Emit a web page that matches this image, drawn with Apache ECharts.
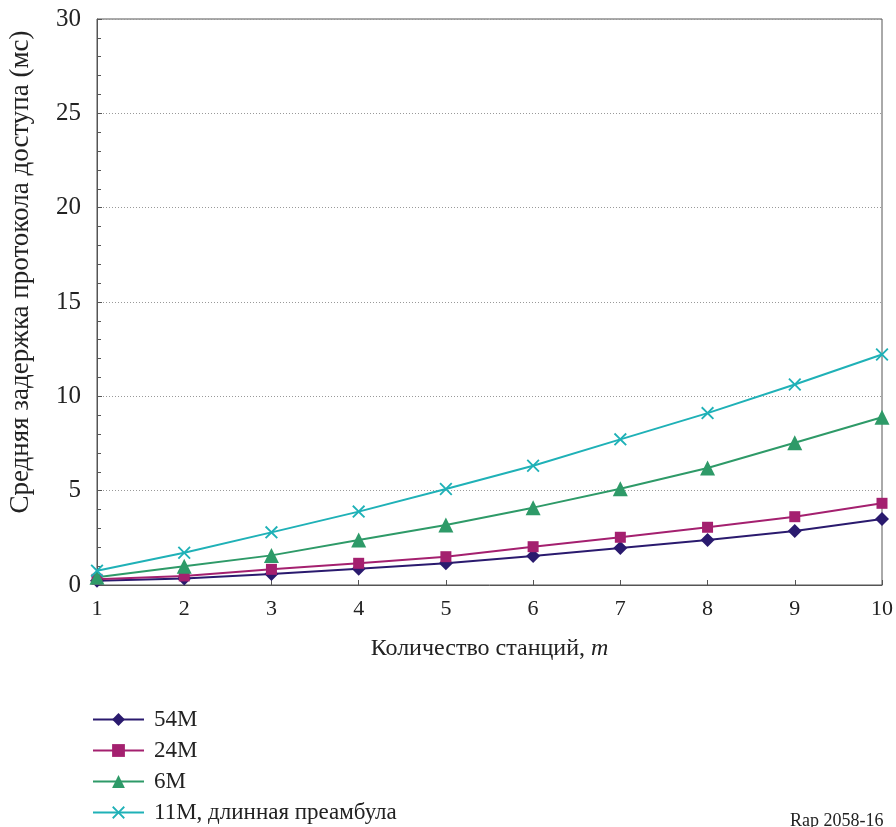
<!DOCTYPE html>
<html><head><meta charset="utf-8">
<script src="https://cdn.jsdelivr.net/npm/echarts@6/dist/echarts.min.js"></script>
<style>html,body{margin:0;padding:0;background:#fff}#c{width:896px;height:827px}</style>
</head><body><div id="c"></div>
<script>
var stations = [1,2,3,4,5,6,7,8,9,10];
var s54M = [0.23,0.34,0.58,0.86,1.15,1.54,1.96,2.38,2.86,3.5];
var s24M = [0.3,0.48,0.83,1.15,1.5,2.03,2.53,3.06,3.62,4.33];
var s6M  = [0.41,1.0,1.57,2.38,3.18,4.1,5.1,6.2,7.54,8.89];
var s11M = [0.76,1.71,2.79,3.89,5.09,6.32,7.72,9.11,10.63,12.22];
var seriesNames = ['54M','24M','6M','11M, длинная преамбула'];
var yTicks = [0,5,10,15,20,25,30];

var font = '"Liberation Serif","Times New Roman",serif';
function pairs(arr){ return stations.map(function(x,i){ return [x, arr[i]]; }); }
var crossPath = 'path://M0,1 L1,0 L5,4 L9,0 L10,1 L6,5 L10,9 L9,10 L5,6 L1,10 L0,9 L4,5 Z';
var defs = [
  {name: seriesNames[0], data: s54M, color:'#2a1a6e', symbol:'diamond', size:14},
  {name: seriesNames[1], data: s24M, color:'#a4206f', symbol:'rect', size:11},
  {name: seriesNames[2], data: s6M,  color:'#2e9a68', symbol:'triangle', size:15},
  {name: seriesNames[3], data: s11M, color:'#1fb1b7', symbol:crossPath, size:13}
];
var legendCenters = [719, 750, 781, 812];
var chart = echarts.init(document.getElementById('c'));
chart.setOption({
  animation:false,
  backgroundColor:'#fff',
  grid:{left:97, right:13, top:19, bottom:242, show:true, borderColor:'#555', borderWidth:1},
  legend: seriesNames.map(function(n, i){
    return {
      orient:'vertical', left:92, top:legendCenters[i]-11, padding:0, itemWidth:51, itemHeight:16,
      textStyle:{fontFamily:font, fontSize:23, lineHeight:22, color:'#222', padding:[0,0,0,5]},
      data:[n]
    };
  }),
  xAxis:{
    type:'value', min:1, max:10, interval:1,
    axisLine:{lineStyle:{color:'#555', width:1}},
    axisTick:{inside:true, length:5, lineStyle:{color:'#555'}},
    axisLabel:{fontFamily:font, fontSize:22, color:'#222', margin:13},
    splitLine:{show:false},
    name:'Количество станций, {i|m}', nameLocation:'middle', nameGap:52,
    nameTextStyle:{fontFamily:font, fontSize:24, color:'#222',
      rich:{i:{fontFamily:font, fontSize:24, fontStyle:'italic', color:'#222'}}}
  },
  yAxis:{
    type:'value', min:0, max:30, interval:5,
    axisLine:{show:true, lineStyle:{color:'#555', width:1}},
    axisTick:{show:true, inside:true, length:5, lineStyle:{color:'#555'}},
    minorTick:{show:true, splitNumber:5, length:4, lineStyle:{color:'#555'}},
    axisLabel:{fontFamily:font, fontSize:25, color:'#222', margin:16,
      formatter:function(v){ return yTicks.indexOf(v)>=0 ? String(v) : ''; }},
    splitLine:{show:true, lineStyle:{color:'#999', type:[1,2], width:1}}
  },
  graphic:[
    {type:'text', x:21, y:272, rotation:Math.PI/2, style:{text:'Средняя задержка протокола доступа (мс)',
      font:'27px '+font, fill:'#222', align:'center', verticalAlign:'middle'}},
    {type:'text', left:790, top:812, style:{text:'Rap 2058-16', font:'18px '+font, fill:'#222'}}
  ],
  series: defs.map(function(d){
    return {type:'line', name:d.name, data:pairs(d.data), symbol:d.symbol, symbolSize:d.size,
      showSymbol:true, lineStyle:{color:d.color, width:2}, itemStyle:{color:d.color},
      emphasis:{disabled:true}};
  })
});
</script></body></html>
